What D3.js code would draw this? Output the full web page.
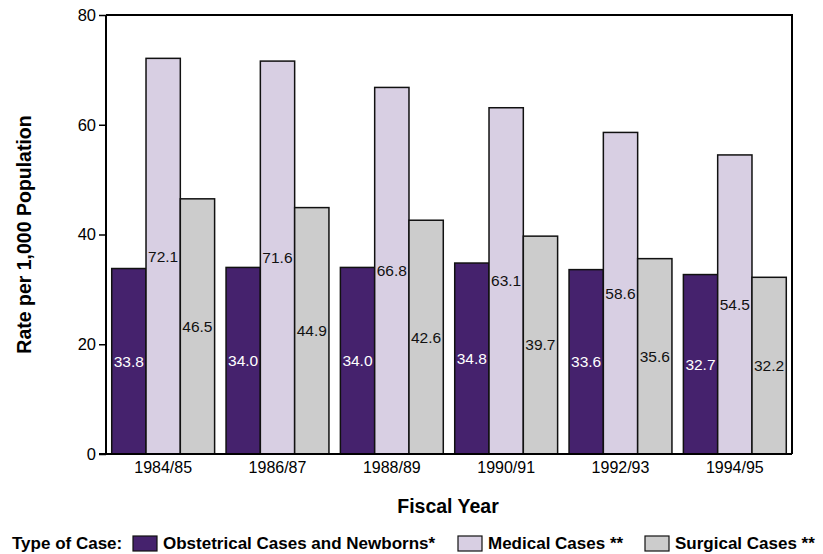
<!DOCTYPE html>
<html>
<head>
<meta charset="utf-8">
<script src="https://cdn.jsdelivr.net/npm/d3@7/dist/d3.min.js"></script>
<style>
  body { margin: 0; background: #fff; }
  svg { display: block; font-family: "Liberation Sans", Arial, sans-serif; }
</style>
</head>
<body>
<svg id="chart" width="823" height="554"></svg>
<script>
// Fiscal years and rates per 1,000 population by type of case
const years = ["1984/85", "1986/87", "1988/89", "1990/91", "1992/93", "1994/95"];
const obstetrical = [33.8, 34.0, 34.0, 34.8, 33.6, 32.7];
const medical = [72.1, 71.6, 66.8, 63.1, 58.6, 54.5];
const surgical = [46.5, 44.9, 42.6, 39.7, 35.6, 32.2];
const seriesNames = ["Obstetrical Cases and Newborns*", "Medical Cases **", "Surgical Cases **"];
const yTicks = [0, 20, 40, 60, 80];

const colors = ["#45226d", "#d8cfe3", "#cccccc"];
const labelColors = ["#ffffff", "#111111", "#111111"];
const seriesValues = [obstetrical, medical, surgical];

const svg = d3.select("#chart");
const plotLeft = 106, plotRight = 792, plotTop = 15, plotBottom = 454;

const x = d3.scaleBand().domain(years).range([plotLeft, plotRight]).paddingInner(0.1).paddingOuter(0.05);
const xs = d3.scaleBand().domain(d3.range(3)).range([0, x.bandwidth()]);
const y = d3.scaleLinear().domain([0, 80]).range([plotBottom, plotTop]);

// frame (top and right)
svg.append("path")
  .attr("d", `M${plotLeft},${plotTop}H${plotRight}V${plotBottom}`)
  .attr("fill", "none").attr("stroke", "#000").attr("stroke-width", 2);

// bars with value labels at mid-height
const groups = svg.append("g").selectAll("g").data(years).join("g")
  .attr("transform", d => `translate(${x(d)},0)`);

groups.each(function(yr, i) {
  const g = d3.select(this);
  seriesValues.forEach((vals, s) => {
    const v = vals[i];
    g.append("rect")
      .attr("x", xs(s)).attr("width", xs.bandwidth())
      .attr("y", y(v)).attr("height", y(0) - y(v))
      .attr("fill", colors[s]).attr("stroke", "#111").attr("stroke-width", 1.5);
    g.append("text")
      .attr("x", xs(s) + 2)
      .attr("y", y(v / 2))
      .attr("dy", "0.35em")
      .attr("fill", labelColors[s])
      .attr("font-size", 15.5)
      .text(v.toFixed(1));
  });
});

// y axis
const yAxis = svg.append("g").attr("transform", `translate(${plotLeft},0)`)
  .call(d3.axisLeft(y).tickValues(yTicks).tickSize(7).tickPadding(3).tickFormat(d3.format("d")));
yAxis.select(".domain").attr("stroke", "#000").attr("stroke-width", 2).attr("d", `M0,${plotTop}V${plotBottom}`);
yAxis.selectAll(".tick line").attr("stroke", "#000").attr("stroke-width", 1.5);
yAxis.selectAll(".tick text").attr("font-size", 16.5).attr("fill", "#000").attr("font-family", "Liberation Sans, Arial, sans-serif");

// x axis
const xAxis = svg.append("g").attr("transform", `translate(0,${plotBottom})`)
  .call(d3.axisBottom(x).tickSize(0).tickPadding(8));
xAxis.select(".domain").attr("stroke", "#000").attr("stroke-width", 2).attr("d", `M${plotLeft - 7},0H${plotRight}`);
xAxis.selectAll(".tick text").attr("font-size", 16).attr("fill", "#000").attr("font-family", "Liberation Sans, Arial, sans-serif");

// axis titles
svg.append("text")
  .attr("x", 448).attr("y", 513)
  .attr("text-anchor", "middle").attr("font-size", 19.5).attr("font-weight", "bold")
  .text("Fiscal Year");
svg.append("text")
  .attr("transform", `translate(31,${(plotTop + plotBottom) / 2}) rotate(-90)`)
  .attr("text-anchor", "middle").attr("font-size", 19.5).attr("font-weight", "bold")
  .text("Rate per 1,000 Population");

// legend
const legend = svg.append("g").attr("font-size", 17).attr("font-weight", "bold");
legend.append("text").attr("x", 12).attr("y", 549).text("Type of Case:");
const legendX = [133, 458, 645];
seriesNames.forEach((name, s) => {
  legend.append("rect")
    .attr("x", legendX[s]).attr("y", 536).attr("width", 24).attr("height", 15)
    .attr("fill", colors[s]).attr("stroke", "#111").attr("stroke-width", 1.2);
  legend.append("text").attr("x", legendX[s] + 30).attr("y", 549).text(name);
});
</script>
</body>
</html>
